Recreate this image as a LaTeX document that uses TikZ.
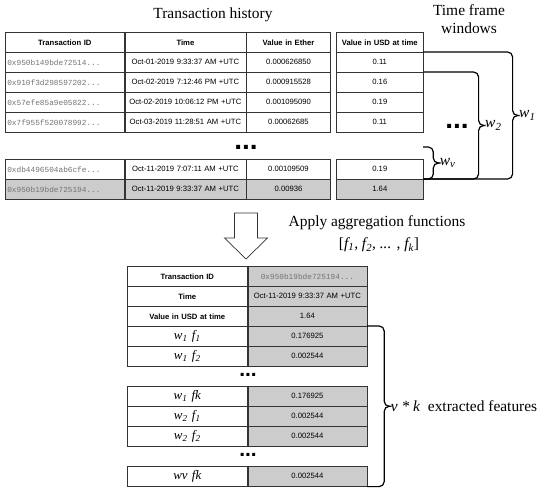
\documentclass[tikz,border=0pt]{standalone}
\usepackage{fontspec}
\setmainfont{Liberation Serif}
\setsansfont{Liberation Sans}
\setmonofont{Liberation Mono}
\usetikzlibrary{calc}

\newcommand\tabfont{\sffamily\fontsize{7.7}{9}\selectfont}
\newcommand\idfont{\ttfamily\fontsize{7.8}{9}\selectfont}
\newcommand\capfont{\rmfamily\fontsize{15.5}{18}\selectfont}
\newcommand\labfont{\rmfamily\itshape\fontsize{13}{15}\selectfont}

\begin{document}
\begin{tikzpicture}[x=1bp,y=-1bp,
    cell/.style={draw=black!80, line width=0.6bp, anchor=north west, minimum height=20bp,
      inner xsep=2bp, inner ysep=0pt, align=center, font=\tabfont},
    head/.style={cell, font=\tabfont\bfseries},
    idcell/.style={cell, font=\idfont, text=black!55},
    labcell/.style={cell, font=\labfont},
    shade/.style={fill=black!20},
    caption/.style={font=\capfont, align=center},
    brace/.style={line width=1.2bp, rounded corners=5bp},
    blab/.style={right, inner sep=1bp, font=\capfont},
    dots/.style={anchor=base, inner sep=0pt, font=\sffamily\bfseries\fontsize{#1}{#1}\selectfont}]
  \useasboundingbox (0,0) rectangle (550,491);

  % Titel
  \node[caption] (hist) at (213,15) {Transaction history};
  \node[caption] (frames) at (469,19) {Time frame\\windows};

  % Transaktionen
  \node[head, text width=115bp] (hid) at (5,32) {Transaction ID};
  \node[head, text width=117bp] (htime) at (hid.north east) {Time};
  \node[head, text width=80bp] (heth) at (htime.north east) {Value in Ether};
  \node[head, text width=83bp] (husd) at (336,32) {Value in USD at time};

  \foreach \i/\y/\fc/\tid/\tm/\eth/\usd in {
      1/52/white/0x950b149bde72514/Oct-01-2019 9:33:37 AM +UTC/0.000626850/0.11,
      2/72/white/0x910f3d298597202/Oct-02-2019 7:12:46 PM +UTC/0.000915528/0.16,
      3/92/white/0x57efe85a9e05822/Oct-02-2019 10:06:12 PM +UTC/0.001095090/0.19,
      4/112/white/0x7f955f520078992/Oct-03-2019 11:28:51 AM +UTC/0.00062685/0.11,
      5/159/white/0xdb4496504ab6cfe/Oct-11-2019 7:07:11 AM +UTC/0.00109509/0.19,
      6/179/black!20/0x950b19bde725194/Oct-11-2019 9:33:37 AM +UTC/0.00936/1.64} {
    \node[idcell, fill=\fc, text width=115bp, align=left] (id\i) at (5,\y) {\tid...};
    \node[cell, fill=\fc, text width=117bp] (tm\i) at (id\i.north east) {\tm};
    \node[cell, fill=\fc, text width=80bp] (eth\i) at (tm\i.north east) {\eth};
    \node[cell, fill=\fc, text width=83bp] (usd\i) at (336,\y) {\usd};
  }
  \node[dots=28] (gap1) at (246,150) {...};
  \node[dots=28] (gap2) at (457,129) {...};

  % Zeitfenster
  \coordinate (wvtop) at (423,147);
  \path ($(usd1.north east)!.5!(usd6.north east)$) ++(89,0) coordinate (w1tip);
  \path ($(usd2.north east)!.5!(usd6.north east)$) ++(55,0) coordinate (w2tip);
  \path ($(wvtop)!.5!(usd6.north east)$) ++(10,0) coordinate (wvtip);

  \draw[brace] (usd1.north east) -| (w1tip) -- ++(5,0)
    node[blab] {\textit{w}\textsubscript{\textit{1}}};
  \draw[brace] (usd6.north east) -| (w1tip) -- ++(5,0);
  \draw[brace] (usd2.north east) -| (w2tip) -- ++(5,0)
    node[blab] {\textit{w}\textsubscript{\textit{2}}};
  \draw[brace] (usd6.north east) -| (w2tip) -- ++(5,0);
  \draw[brace] (wvtop) -| (wvtip) -- ++(5,0)
    node[blab] {\textit{w}\textsubscript{\textit{v}}};
  \draw[brace] (usd6.north east) -| (wvtip) -- ++(5,0);

  % Pfeil
  \coordinate (arr) at (246,213);
  \draw[line width=0.7bp, draw=black!80, fill=white] (arr) ++(-11.5,0) -- ++(23,0) -- ++(0,25)
    -- ++(10,0) -- ++(-21.5,21) -- ++(-21.5,-21) -- ++(10,0) -- cycle;
  \node[caption] (apply) at (377,223) {Apply aggregation functions};
  \node[caption] (funcs) at (379,245)
    {[\textit{f\textsubscript{1}, f\textsubscript{2}, ... , f\textsubscript{k}}]};

  % Merkmale
  \node[head, text width=116bp] (bl1) at (127,266) {Transaction ID};
  \node[idcell, shade, text width=115bp] (br1) at (bl1.north east) {0x950b19bde725194...};
  \node[head, text width=116bp] (bl2) at (127,286) {Time};
  \node[cell, shade, text width=115bp] (br2) at (bl2.north east) {Oct-11-2019 9:33:37 AM +UTC};
  \node[head, text width=116bp] (bl3) at (127,306) {Value in USD at time};
  \node[cell, shade, text width=115bp] (br3) at (bl3.north east) {1.64};

  \foreach \j/\y/\lab/\val in {
      4/326/w\textsubscript{1} f\textsubscript{1}/0.176925,
      5/346/w\textsubscript{1} f\textsubscript{2}/0.002544,
      6/386/w\textsubscript{1} fk/0.176925,
      7/406/w\textsubscript{2} f\textsubscript{1}/0.002544,
      8/426/w\textsubscript{2} f\textsubscript{2}/0.002544,
      9/466/wv fk/0.002544} {
    \node[labcell, text width=116bp] (bl\j) at (127,\y) {\lab};
    \node[cell, shade, text width=115bp] (br\j) at (bl\j.north east) {\val};
  }
  \node[dots=21] (gap3) at (248,376.5) {...};
  \node[dots=21] (gap4) at (248,456.5) {...};

  \path ($(br4.north east)!.5!(br9.south east)$) ++(17,0) coordinate (ftip);
  \draw[brace] (br4.north east) -| (ftip) -- ++(5,0)
    node[blab] {\textit{v * k}\ \ extracted features};
  \draw[brace] (br9.south east) -| (ftip) -- ++(5,0);
\end{tikzpicture}
\end{document}
